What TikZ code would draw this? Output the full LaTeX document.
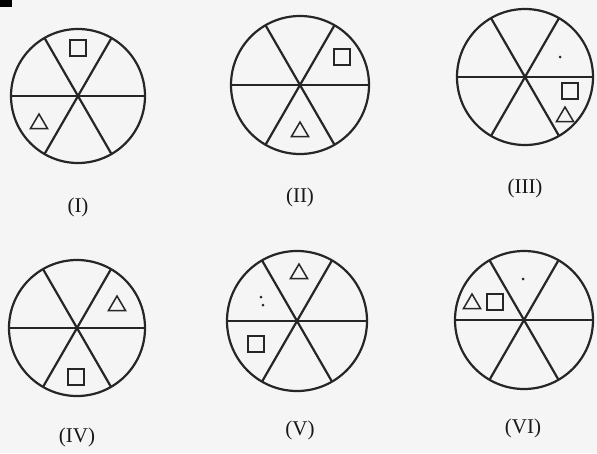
\documentclass[tikz,border=0pt]{standalone}
\usepackage{fontspec}
\setmainfont{Liberation Serif}
\usetikzlibrary{calc}
\begin{document}
\begin{tikzpicture}[x=1pt,y=-1pt,
  ln/.style={line width=2.2pt, draw=black!85},
  shp/.style={line width=1.5pt, draw=black!85},
  lab/.style={font=\fontsize{21}{24}\selectfont, text=black!90, inner sep=0pt},
  sq/.pic={\draw[shp] (-8,-8) rectangle (8,8);},
  tri/.pic={\draw[shp] (0,-8) -- (8.5,6.5) -- (-8.5,6.5) -- cycle;}]
\fill[gray!8] (0,0) rectangle (597,453);
\useasboundingbox (0,0) rectangle (597,453);
\fill[black] (0,0) rectangle (12,7);
\newcommand\wheel[4]{%
  \coordinate (#4) at (#1,#2);
  \draw[ln] (#4) circle[radius=#3];
  \draw[ln] ($(#4)+(180:#3)$) -- ($(#4)+(0:#3)$);
  \draw[ln] ($(#4)+(60:#3)$) -- ($(#4)+(240:#3)$);
  \draw[ln] ($(#4)+(120:#3)$) -- ($(#4)+(300:#3)$);
}
% I
\wheel{78}{96}{67}{c1}
\pic at (78,48) {sq};
\pic at (39,122) {tri};
\node[lab] (l1) at (78,207) {(I)};
% II
\wheel{300}{85}{69}{c2}
\pic at (342,57) {sq};
\pic at (300,130) {tri};
\node[lab] (l2) at (300,197) {(II)};
% III
\wheel{525}{77}{68}{c3}
\fill[black!85] (560,57) circle[radius=1.5];
\pic at (570,91) {sq};
\pic at (565,115) {tri};
\node[lab] (l3) at (525,188) {(III)};
% IV
\wheel{77}{328}{68}{c4}
\pic at (117,304) {tri};
\pic at (76,377) {sq};
\node[lab] (l4) at (77,437) {(IV)};
% V
\wheel{297}{321}{70}{c5}
\pic at (299,272) {tri};
\pic at (256,344) {sq};
\fill[black!85] (261,297) circle[radius=1.5];
\fill[black!85] (263,305) circle[radius=1.5];
\node[lab] (l5) at (300,430) {(V)};
% VI
\wheel{524}{320}{69}{c6}
\pic at (472,302) {tri};
\pic at (495,302) {sq};
\fill[black!85] (523,279) circle[radius=1.5];
\node[lab] (l6) at (523,428) {(VI)};
\end{tikzpicture}
\end{document}
